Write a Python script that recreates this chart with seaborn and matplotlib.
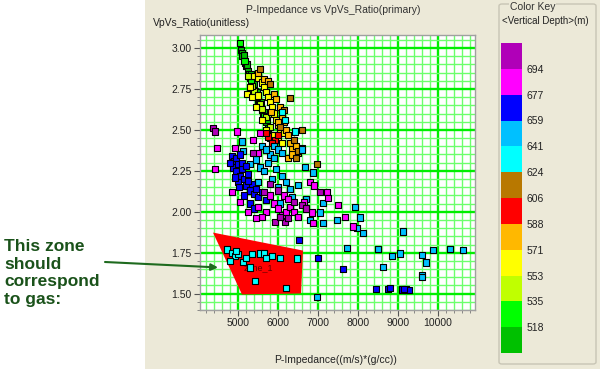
import numpy as np
import pandas as pd
import matplotlib
matplotlib.use("Agg")
import matplotlib.pyplot as plt
import seaborn as sns
from matplotlib.colors import ListedColormap, BoundaryNorm
from matplotlib.patches import Polygon, FancyBboxPatch, Rectangle
import matplotlib.ticker as mticker

# ---------------- data ----------------
depth_bounds = [500, 518, 535, 553, 571, 588, 606, 624, 641, 659, 677, 694, 712]
depth_labels = ["518", "535", "553", "571", "588", "606", "624", "641", "659", "677", "694"]
bin_colors = ["#00C000", "#00FF00", "#C0FF00", "#FFFF00", "#FFB800", "#FF0000",
              "#B87800", "#00FFFF", "#00C0FF", "#0000FF", "#FF00FF", "#B000B8"]
bin_depths = [509, 527, 544, 562, 580, 597, 615, 632, 650, 668, 685, 703]

imp_green = [5075, 5100, 5110, 5150, 5175, 5200, 5250, 5275, 5300, 5350, 5380, 5425, 5450, 5500,
             5525, 5600, 5625, 5675, 5700, 5750, 5150, 5230, 5320, 5400, 5480, 5560, 5640, 5720]
vr_green = [2.99, 2.97, 2.95, 2.93, 2.91, 2.89, 2.86, 2.84, 2.82, 2.80, 2.78, 2.74, 2.72, 2.68,
            2.66, 2.62, 2.60, 2.57, 2.55, 2.51, 2.96, 2.90, 2.84, 2.78, 2.73, 2.67, 2.61, 2.56]
imp_lime = [5050, 5160, 5330, 5470, 5650, 5800]
vr_lime = [3.03, 2.92, 2.79, 2.70, 2.585, 2.45]
imp_ygreen = [5250, 5400, 5550, 5700, 5800, 5900, 5350, 5600]
vr_ygreen = [2.83, 2.74, 2.66, 2.58, 2.52, 2.47, 2.77, 2.63]
imp_yellow = [5225, 5350, 5400, 5450, 5500, 5600, 5650, 5700, 5750, 5800, 5850, 5900, 5950, 6000,
              6050, 5600, 5700, 5850, 6000, 6100, 5300, 5500, 6150]
vr_yellow = [2.72, 2.70, 2.83, 2.64, 2.82, 2.79, 2.76, 2.73, 2.70, 2.67, 2.64, 2.60, 2.56, 2.53,
             2.50, 2.56, 2.50, 2.47, 2.45, 2.42, 2.76, 2.71, 2.48]
imp_orange = [5500, 5650, 5750, 5900, 5950, 6050, 6100, 6150, 6200, 6250, 6300, 6350, 6250, 6350,
              6600, 6450, 6500, 5820, 6000]
vr_orange = [2.85, 2.81, 2.80, 2.72, 2.69, 2.64, 2.58, 2.55, 2.50, 2.47, 2.42, 2.38, 2.33, 2.35,
             2.39, 2.40, 2.36, 2.61, 2.55]
imp_red = [5750, 5925, 5850, 6000, 5700]
vr_red = [2.46, 2.44, 2.42, 2.47, 2.48]
imp_brown = [5550, 5800, 6300, 6600, 6975, 6400, 6500, 6150, 6450, 6050]
vr_brown = [2.87, 2.78, 2.695, 2.50, 2.29, 2.44, 2.37, 2.62, 2.33, 2.52]
imp_cyan = [4725, 4850, 4925, 4800, 5000, 5125, 5300, 5350, 5550, 5650, 5850, 6050, 6475, 5425,
            6200, 5200, 5700, 4950, 6100, 6175, 6425]
vr_cyan = [1.77, 1.75, 1.73, 1.70, 1.74, 1.695, 1.66, 1.74, 1.745, 1.745, 1.73, 1.72, 1.715, 1.575,
           1.535, 1.72, 1.72, 1.76, 2.61, 2.56, 2.49]
imp_sky = [5100, 5125, 5300, 5450, 5550, 5650, 5750, 5800, 5900, 5600, 5700, 5850, 6000, 6100,
           6200, 6300, 5500, 5950, 6350, 6050, 6700, 6600, 6675, 6875, 6500, 7125, 7925, 7050,
           6800, 7125, 7475, 8050, 7975, 8125, 9125, 7725, 8500, 8625, 8850, 9050, 9600, 9700,
           9600, 9600, 9875, 10300, 10625, 6975, 5900, 6000, 6100]
vr_sky = [2.43, 2.37, 2.29, 2.32, 2.27, 2.25, 2.30, 2.35, 2.33, 2.40, 2.38, 2.20, 2.15, 2.22,
          2.18, 2.14, 2.18, 2.26, 2.09, 2.05, 2.08, 2.38, 2.275, 2.24, 2.165, 2.055, 2.03, 1.995,
          1.95, 1.93, 1.95, 1.965, 1.90, 1.87, 1.88, 1.78, 1.775, 1.665, 1.73, 1.745, 1.735, 1.69,
          1.615, 1.60, 1.765, 1.775, 1.765, 1.48, 2.40, 2.38, 2.36]
imp_blue = [4850, 4900, 4950, 4875, 4950, 5000, 5050, 5100, 5000, 5150, 5200, 5250, 5300, 5350,
            5400, 5450, 5100, 5200, 5050, 5500, 5600, 5700, 5300, 5400, 5025, 5150, 4800, 4925,
            5250, 6525, 7000, 7625, 8450, 8750, 8800, 9100, 9200, 9275, 9150]
vr_blue = [2.34, 2.31, 2.33, 2.27, 2.25, 2.29, 2.22, 2.26, 2.18, 2.20, 2.16, 2.23, 2.13, 2.17,
           2.11, 2.14, 2.30, 2.28, 2.35, 2.09, 2.12, 2.07, 2.05, 2.02, 2.15, 2.10, 2.30, 2.21,
           2.19, 1.83, 1.72, 1.65, 1.53, 1.53, 1.535, 1.525, 1.525, 1.52, 1.53]
imp_magenta = [4975, 5375, 5550, 4475, 4925, 5500, 4425, 4850, 5050, 5800, 5900, 6000, 6100, 6200,
               6300, 6400, 5700, 5600, 6500, 6800, 6900, 7225, 7250, 7500, 6850, 6875, 7675, 7875,
               6150, 6250, 5500, 5250, 5450, 6650]
vr_magenta = [2.49, 2.44, 2.48, 2.39, 2.39, 2.36, 2.26, 2.12, 2.06, 2.10, 2.05, 2.02, 1.98, 2.00,
              2.03, 2.00, 2.00, 1.97, 1.97, 2.18, 2.16, 2.12, 2.085, 2.04, 1.995, 1.93, 1.97, 1.91,
              2.10, 2.08, 2.03, 2.00, 1.96, 2.06]
imp_purple = [4375, 4425, 5375, 7050, 5925, 6175, 6000, 6400, 6600, 6700, 6050, 5650, 5800, 6250]
vr_purple = [2.51, 2.49, 2.36, 2.12, 1.94, 1.94, 2.13, 2.06, 2.04, 2.02, 1.97, 2.12, 2.17, 1.96]

zone_imp = [4375, 6625, 6575, 5100]
zone_vr = [1.873, 1.763, 1.501, 1.495]

x_ticks = [5000, 6000, 7000, 8000, 9000, 10000]
y_ticks = [1.50, 1.75, 2.00, 2.25, 2.50, 2.75, 3.00]

groups = [(imp_green, vr_green), (imp_lime, vr_lime), (imp_ygreen, vr_ygreen),
          (imp_yellow, vr_yellow), (imp_orange, vr_orange), (imp_red, vr_red),
          (imp_brown, vr_brown), (imp_cyan, vr_cyan), (imp_sky, vr_sky),
          (imp_blue, vr_blue), (imp_magenta, vr_magenta), (imp_purple, vr_purple)]

rows = []
for i, (xs, ys) in enumerate(groups):
    for x, y in zip(xs, ys):
        rows.append({"imp": x, "vr": y, "depth": bin_depths[i], "bin": i})
df = pd.DataFrame(rows)

# ---------------- figure ----------------
sns.set_style("white")
plt.rcParams["font.family"] = ["Liberation Sans", "DejaVu Sans"]

BEIGE = "#ECE9D8"
fig = plt.figure(figsize=(6.0, 3.69), dpi=100, facecolor="white")
fig.patches.append(Rectangle((145 / 600, 0), 1 - 145 / 600, 1, transform=fig.transFigure,
                             facecolor=BEIGE, edgecolor="none", zorder=-10))

ax = fig.add_axes([200 / 600, 1 - 310 / 369, 275 / 600, 275 / 369])
ax.set_facecolor("white")
ax.set_xlim(4050, 10925)
ax.set_ylim(1.40, 3.08)

ax.set_axisbelow(True)
ax.set_xticks(x_ticks)
ax.set_yticks(y_ticks)
ax.xaxis.set_minor_locator(mticker.MultipleLocator(200))
ax.yaxis.set_minor_locator(mticker.MultipleLocator(0.05))
ax.yaxis.set_major_formatter(mticker.FormatStrFormatter("%.2f"))
ax.grid(which="minor", color="#6CFF6C", lw=1.0)
ax.grid(which="major", color="#00EE00", lw=1.7)
ax.tick_params(which="major", direction="out", length=4, width=0.8, color="#555555",
               labelsize=7.5, labelcolor="#222222", pad=2)
ax.tick_params(which="minor", direction="out", length=2, width=0.6, color="#777777")
ax.tick_params(axis="both", which="both", bottom=True, left=True, top=False, right=False)
for s in ax.spines.values():
    s.set_color("#A0A0A0")
    s.set_linewidth(1.0)

poly = Polygon(list(zip(zone_imp, zone_vr)), closed=True, facecolor="#FF0000",
               edgecolor="none", zorder=1.5)
ax.add_patch(poly)
ax.text(5500, 1.66, "zone_1", fontsize=6.5, color="#600000", ha="center", va="center",
        zorder=1.6)

palette = {i: c for i, c in enumerate(bin_colors)}
sns.scatterplot(data=df, x="imp", y="vr", hue="bin", palette=palette, marker="s", s=20,
                edgecolor="black", linewidth=0.8, legend=False, ax=ax, zorder=3)
ax.set_xlabel("")
ax.set_ylabel("")

fig.text(333 / 600, 1 - 10 / 369, "P-Impedance vs VpVs_Ratio(primary)", ha="center",
         va="center", fontsize=7.5, color="#333333")
fig.text(153 / 600, 1 - 23 / 369, "VpVs_Ratio(unitless)", ha="left", va="center",
         fontsize=7.5, color="#222222")
fig.text(336 / 600, 1 - 360 / 369, "P-Impedance((m/s)*(g/cc))", ha="center", va="center",
         fontsize=7.5, color="#222222")

# annotation on the left
fig.text(4 / 600, 1 - 273 / 369, "This zone\nshould\ncorrespond\nto gas:", ha="left",
         va="center", fontsize=12.5, fontweight="bold", color="#1A521A", linespacing=1.22)
ax.annotate("", xy=(4500, 1.66), xytext=(105 / 600, 1 - 262 / 369),
            textcoords="figure fraction", xycoords="data", annotation_clip=False,
            arrowprops=dict(arrowstyle="-|>", color="#1E6A1E", lw=1.5, mutation_scale=10,
                            shrinkA=0, shrinkB=0))

# ---------------- colour key ----------------
fig.patches.append(FancyBboxPatch((499 / 600, 5 / 369), 97 / 600, 360 / 369,
                                  boxstyle="round,pad=0,rounding_size=0.005",
                                  transform=fig.transFigure, facecolor="none",
                                  edgecolor="#C8C5B5", lw=1.0, zorder=1))
fig.text(510 / 600, 1 - 7 / 369, "Color Key", ha="left", va="center", fontsize=7.5,
         color="#333333", bbox=dict(facecolor=BEIGE, edgecolor="none", pad=0.5), zorder=2)
fig.text(502 / 600, 1 - 21 / 369, "<Vertical Depth>(m)", ha="left", va="center",
         fontsize=7.0, color="#222222")

cax = fig.add_axes([501 / 600, 1 - 353 / 369, 21 / 600, 310 / 369])
cmap = ListedColormap(bin_colors)
norm = BoundaryNorm(depth_bounds, cmap.N)
cb = matplotlib.colorbar.ColorbarBase(cax, cmap=cmap, norm=norm, boundaries=depth_bounds,
                                      orientation="vertical")
cb.outline.set_visible(False)
cb.set_ticks(depth_bounds[1:-1])
cb.set_ticklabels(depth_labels)
cax.minorticks_off()
cax.tick_params(which="both", length=0, labelsize=7.5, labelcolor="#222222", pad=3)

fig.savefig("out.png", dpi=100, facecolor=fig.get_facecolor())
